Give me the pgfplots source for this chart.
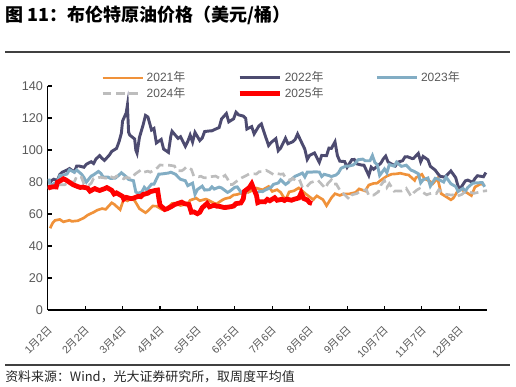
\documentclass[border=0pt]{standalone}
\usepackage{fontspec}
\setmainfont{Liberation Sans}
\newfontfamily\cjk{Noto Sans CJK SC}
\usepackage{pgfplots}
\pgfplotsset{compat=1.18}
\definecolor{c21}{RGB}{240,146,58}
\definecolor{c22}{RGB}{77,75,112}
\definecolor{c23}{RGB}{130,173,196}
\definecolor{c24}{RGB}{189,189,189}
\definecolor{c25}{RGB}{255,0,0}
\definecolor{tk}{RGB}{89,89,89}
\newcommand\nian{{\cjk 年}}
\newcommand\xl[2]{#1{\cjk 月}#2{\cjk 日}}
\begin{document}
\begin{tikzpicture}
\path[use as bounding box] (0,0) rectangle (387pt,289.5pt);
\node[anchor=west, inner sep=0] at (3.75pt,278.25pt) {\cjk\bfseries\fontsize{13.5pt}{15pt}\selectfont 图 11：布伦特原油价格（美元/桶）};
\draw[line width=0.8pt, black!75] (3.75pt,250.5pt) -- (382.5pt,250.5pt);
\draw[line width=0.8pt, black!75] (3.75pt,15.75pt) -- (382.5pt,15.75pt);
\node[anchor=west, inner sep=0, black!85] at (3.75pt,7.2pt) {\cjk\fontsize{9.7pt}{11pt}\selectfont 资料来源：Wind，光大证券研究所，取周度平均值};
\begin{axis}[
  at={(35.8pt,57pt)}, anchor=south west,
  scale only axis, width=329.5pt, height=168pt,
  xmin=0, xmax=364, ymin=0, ymax=140,
  axis x line*=bottom, axis y line*=left,
  axis line style={line width=0.9pt, black},
  tick style={line width=0.8pt, black},
  major tick length=3pt,
  tick align=inside,
  ytick={0,20,...,140},
  xtick={0,31,62,93,124,155,186,217,248,279,310,341},
  xticklabels={\xl{1}{2},\xl{2}{2},\xl{3}{4},\xl{4}{4},\xl{5}{5},\xl{6}{5},\xl{7}{6},\xl{8}{6},\xl{9}{6},\xl{10}{7},\xl{11}{7},\xl{12}{8}},
  /pgf/number format/assume math mode=true,
  yticklabel style={font=\fontsize{9.5pt}{11pt}\selectfont, text=tk},
  xticklabel style={font=\fontsize{8pt}{10pt}\selectfont, text=tk, xshift=2.5pt, rotate=45, anchor=east, inner sep=1pt},
  xticklabel shift=13pt,
  legend columns=3,
  legend style={at={(0.1214,1.0766)}, anchor=north west, draw=none, fill=none,
    font=\fontsize{9pt}{11pt}\selectfont, text=tk, inner sep=0pt, row sep=-1.5pt,
    /tikz/every odd column/.append style={column sep=0pt}},
  legend cell align=left,
  legend image code/.code={\draw[#1] (0pt,0pt) -- (30pt,0pt);},
]
\addplot[c21, line width=2pt] coordinates {
(2,51.1)(4,54.3)(6,56.0)(10,56.6)(13,55.1)(18,56.1)(20,55.4)(25,55.8)(30,57.6)(33,59.3)(38,61.1)(41,62.4)(45,63.4)(48,62.9)(53,67.0)(55,66.1)(60,62.7)(63,69.4)(66,68.2)(69,69.6)(72,68.4)(76,63.3)(81,60.8)(83,61.95)(87,64.98)(90,64.9)(95,62.7)(98,62.95)(103,66.6)(105,66.8)(110,65.3)(116,66.4)(118,68.6)(123,69.9)(126,68.3)(131,69.3)(133,68.7)(138,66.7)(140,66.4)(145,68.9)(147,69.6)(151,70.3)(154,71.9)(157,72.2)(159,72.7)(164,74.4)(166,73.5)(171,75.2)(173,76.2)(178,75.1)(183,77.2)(186,74.1)(190,75.2)(193,73.5)(197,68.6)(200,73.8)(204,74.5)(208,76.3)(214,72.4)(217,70.7)(220,69.0)(223,71.3)(228,69.0)(231,65.2)(235,70.1)(238,72.7)(242,71.6)(245,72.6)(250,72.6)(255,73.5)(258,75.7)(263,74.4)(266,78.1)(270,79.1)(273,79.3)(276,81.1)(281,83.7)(285,84.9)(289,85.1)(292,85.5)(297,84.6)(299,84.4)(304,81.0)(305,82.7)(310,84.8)(312,82.2)(317,80.3)(319,78.9)(323,82.3)(326,72.7)(334,68.9)(336,69.9)(341,76.0)(343,75.2)(346,73.9)(351,71.5)(354,76.9)(359,78.9)(362,77.8)
};
\addlegendentry{\makebox[66pt][l]{2021\nian}}
\addplot[c22, line width=2.2pt] coordinates {
(1,79.0)(3,80.8)(5,81.75)(8,80.9)(10,84.7)(12,86.1)(16,87.5)(18,88.4)(22,86.3)(24,89.96)(26,90.0)(30,89.2)(32,91.1)(36,92.7)(38,91.55)(40,94.4)(43,96.5)(45,94.8)(47,93.5)(51,96.8)(53,99.1)(57,100.99)(59,104.97)(61,110.5)(62,118.1)(65,123.2)(66,127.98)(67,111.1)(68,109.3)(72,106.9)(73,99.9)(74,98.0)(76,107.9)(79,115.6)(81,121.6)(83,120.65)(86,112.5)(88,113.45)(90,104.4)(94,106.6)(96,100.6)(100,98.5)(102,108.8)(103,111.7)(108,107.25)(110,108.3)(114,102.3)(116,105.3)(118,109.3)(120,104.97)(122,111.0)(126,105.9)(128,107.5)(130,111.55)(134,111.9)(136,112.0)(140,113.4)(142,114.0)(144,119.4)(148,122.8)(150,117.6)(154,119.5)(156,123.6)(158,122.0)(162,121.2)(164,119.8)(165,113.1)(169,114.65)(171,110.05)(175,115.1)(177,116.3)(179,111.6)(183,102.8)(185,104.65)(189,107.1)(191,99.6)(193,101.2)(197,107.35)(199,103.9)(203,105.15)(205,106.6)(207,110.0)(213,100.5)(215,94.1)(217,96.65)(219,97.4)(221,98.15)(225,92.3)(227,96.6)(231,96.5)(233,101.2)(235,100.99)(238,105.1)(240,96.5)(242,93.0)(246,92.8)(248,89.2)(252,94.0)(254,94.1)(256,91.35)(260,90.6)(262,90.5)(266,84.1)(268,89.3)(270,87.96)(276,91.8)(278,94.4)(280,96.2)(282,92.45)(284,91.6)(288,90.0)(290,92.4)(294,93.3)(296,95.7)(298,95.8)(302,94.65)(303,94.7)(307,97.9)(309,92.65)(311,95.99)(315,93.9)(317,89.8)(321,87.45)(323,85.4)(325,83.6)(329,83.0)(334,86.9)(338,82.7)(340,77.2)(342,76.1)(346,80.7)(348,81.2)(352,79.8)(354,82.2)(356,83.9)(361,83.3)(363,85.9)
};
\addlegendentry{\makebox[66pt][l]{2022\nian}}
\addplot[c23, line width=2.2pt] coordinates {
(1,82.1)(2,77.8)(4,78.6)(8,80.1)(10,84.0)(14,84.5)(16,85.0)(18,87.6)(22,86.1)(24,87.5)(28,84.9)(30,82.8)(32,79.9)(36,83.7)(38,84.5)(42,86.6)(44,85.4)(46,83.0)(50,83.05)(52,82.2)(56,82.45)(59,84.3)(61,85.8)(65,83.3)(67,81.6)(71,80.8)(73,73.7)(75,72.97)(78,73.8)(80,76.7)(82,74.99)(86,78.65)(88,78.6)(92,84.9)(94,84.99)(100,85.6)(102,86.1)(106,84.8)(108,83.1)(110,81.7)(114,80.8)(116,77.7)(120,79.3)(122,72.3)(124,75.3)(128,77.4)(130,74.98)(134,75.2)(136,76.96)(138,75.6)(142,76.8)(144,76.3)(149,73.5)(151,74.3)(155,76.7)(157,76.95)(159,74.8)(162,71.8)(164,73.2)(166,76.6)(170,76.9)(172,73.1)(176,74.2)(178,74.0)(180,74.9)(185,76.65)(187,78.5)(191,79.4)(193,81.4)(197,78.5)(199,79.5)(201,81.1)(205,83.6)(207,84.2)(211,85.6)(213,83.2)(215,86.2)(219,86.2)(221,86.4)(225,86.2)(227,83.45)(229,84.8)(233,84.0)(235,83.4)(239,84.4)(241,85.9)(243,88.55)(247,90.0)(249,89.9)(253,90.6)(255,91.9)(257,93.9)(261,94.3)(263,93.3)(267,93.3)(269,96.55)(271,92.2)(273,90.9)(275,84.1)(279,88.15)(281,85.8)(283,90.9)(287,89.9)(289,92.4)(293,89.8)(295,90.1)(297,90.5)(301,87.4)(303,86.85)(307,85.2)(309,79.5)(311,81.4)(315,82.5)(317,77.4)(321,82.3)(323,81.96)(328,79.98)(330,83.1)(334,78.9)(338,77.2)(340,74.05)(344,76.0)(346,74.3)(348,76.55)(352,79.2)(354,79.4)(360,79.65)(362,77.0)
};
\addlegendentry{\makebox[40pt][l]{2023\nian}}
\addplot[c24, line width=2pt, dash pattern=on 6.5pt off 3.5pt] coordinates {
(0,75.9)(2,77.6)(6,76.1)(8,77.8)(10,78.3)(14,78.3)(16,79.1)(20,80.1)(22,80.0)(24,83.55)(28,82.9)(30,78.7)(34,78.0)(36,79.2)(38,82.2)(42,82.8)(44,82.9)(49,82.3)(51,83.7)(55,82.5)(57,83.7)(59,83.55)(63,82.0)(65,82.96)(69,82.2)(71,84.0)(73,85.3)(77,87.4)(79,86.0)(83,86.75)(85,86.1)(91,89.0)(93,90.65)(97,90.4)(99,90.5)(101,90.45)(105,90.0)(107,87.1)(111,87.0)(113,88.0)(115,89.5)(119,87.9)(121,83.7)(125,83.3)(127,83.6)(129,82.8)(133,82.4)(135,83.3)(139,83.7)(141,82.9)(143,82.1)(147,84.2)(149,81.9)(151,78.4)(153,78.4)(155,79.6)(159,81.9)(161,82.75)(165,84.25)(167,85.1)(169,85.2)(173,85.0)(175,86.4)(179,86.6)(181,87.3)(183,86.5)(187,84.7)(189,85.4)(193,84.85)(195,85.1)(197,82.6)(201,81.0)(203,82.4)(207,79.8)(209,80.7)(211,76.8)(214,76.3)(216,78.3)(218,79.7)(222,80.7)(224,81.0)(228,77.7)(230,76.05)(232,79.0)(235,81.4)(237,78.65)(239,78.8)(243,73.75)(245,72.7)(250,69.2)(252,71.97)(256,72.75)(258,73.7)(260,74.5)(264,75.2)(266,71.6)(270,71.8)(274,73.9)(276,78.05)(279,80.9)(281,76.6)(283,79.0)(287,74.25)(289,74.45)(293,74.3)(295,74.96)(297,76.05)(301,71.1)(303,73.2)(306,75.1)(308,75.9)(310,73.9)(314,72.0)(316,72.6)(320,73.3)(322,72.8)(324,75.2)(328,72.8)(330,72.3)(335,71.8)(337,72.3)(339,71.1)(343,72.2)(345,73.4)(349,73.9)(351,73.4)(353,72.9)(357,73.6)(360,74.2)(364,74.6)
};
\addlegendentry{\makebox[66pt][l]{2024\nian}}
\addplot[c25, line width=3.6pt] coordinates {
(0,75.9)(1,76.5)(5,77.05)(7,76.9)(8,79.8)(11,81.0)(13,82.0)(15,81.3)(19,79.3)(21,78.3)(25,77.1)(27,76.6)(29,76.8)(33,76.2)(35,74.3)(39,75.9)(41,75.2)(43,74.7)(47,75.8)(49,76.5)(53,74.8)(55,72.5)(57,73.2)(62,71.0)(63,69.3)(65,70.4)(69,69.6)(71,69.9)(75,71.1)(77,70.8)(79,72.2)(83,73.0)(85,74.0)(89,74.7)(91,74.95)(92,70.1)(93,65.6)(97,62.8)(99,63.3)(103,64.9)(105,65.85)(111,67.4)(113,66.55)(117,65.9)(119,61.1)(121,61.3)(124,60.2)(126,61.1)(128,63.9)(132,66.6)(134,64.5)(138,65.5)(140,64.9)(142,64.8)(146,64.1)(148,64.15)(152,64.6)(154,65.0)(156,66.5)(160,66.9)(162,69.4)(163,74.2)(167,76.5)(169,78.85)(170,77.0)(173,71.5)(174,67.1)(176,67.7)(180,67.6)(182,69.1)(184,68.3)(188,70.15)(190,68.6)(194,69.2)(196,68.5)(198,69.3)(202,68.6)(204,69.2)(208,70.0)(210,73.2)(212,69.7)(215,68.8)(217,67.1)(219,66.6)
};
\addlegendentry{\makebox[66pt][l]{2025\nian}}
\end{axis}
\end{tikzpicture}
\end{document}
